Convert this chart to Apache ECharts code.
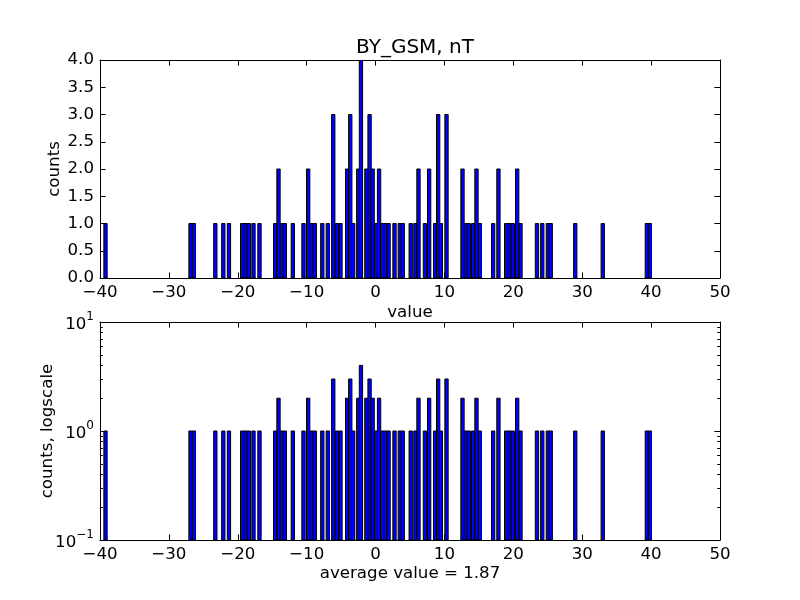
<!DOCTYPE html>
<html>
<head>
<meta charset="utf-8">
<script src="https://cdn.jsdelivr.net/npm/echarts@6/dist/echarts.min.js"></script>
<style>
html, body { margin: 0; padding: 0; background: #fff; }
#chart { width: 800px; height: 600px; }
</style>
</head>
<body>
<div id="chart"></div>
<script>
// bin centres (nT) and counts
const binCenters = [-39.2, -26.86, -26.38, -23.26, -22.1, -21.28, -19.36, -18.88, -18.4, -17.72,
  -16.85, -14.57, -14.09, -13.62, -13.17, -12.01, -10.46, -9.78, -9.3, -8.82,
  -7.73, -6.93, -6.14, -5.61, -5.09, -4.12, -3.67, -3.25, -2.51, -2.12,
  -1.33, -0.87, -0.42, 0.05, 0.51, 0.96, 1.43, 1.89, 2.75, 3.52,
  3.95, 5.1, 5.78, 6.23, 7.17, 7.78, 8.66, 9.09, 9.48, 10.3,
  12.62, 13.08, 13.53, 14.17, 14.65, 15.13, 17.07, 17.84, 18.96, 19.44,
  19.92, 20.56, 21.04, 23.43, 24.2, 25.01, 25.43, 28.99, 32.98, 39.38,
  39.81]
const counts = [1, 1, 1, 1, 1, 1, 1, 1, 1, 1,
  1, 1, 2, 1, 1, 1, 1, 2, 1, 1,
  1, 1, 3, 1, 1, 2, 3, 1, 2, 4,
  2, 3, 2, 1, 2, 1, 1, 1, 1, 1,
  1, 1, 1, 2, 1, 2, 1, 3, 1, 3,
  2, 1, 1, 1, 2, 1, 1, 2, 1, 1,
  1, 2, 1, 1, 1, 1, 1, 1, 1, 1,
  1]
const binWidth = 0.48
const logMajor = [0.1, 1, 10]
const logMinor = [0.2, 0.3, 0.4, 0.5, 0.6, 0.7, 0.8, 0.9, 2, 3, 4, 5, 6, 7, 8, 9]

const font = 'DejaVu Sans'
const fs = 16.67
const minus = v => (v < 0 ? '\u2212' + Math.abs(v) : '' + v)

function renderBar(params, api) {
	const x = api.value(0)
	const top = api.coord([x - binWidth / 2, api.value(1)])
	const bottom = api.coord([x + binWidth / 2, api.value(2)])
	return {
		type: 'rect',
		shape: { x: top[0], y: top[1], width: bottom[0] - top[0], height: bottom[1] - top[1] },
		style: { fill: '#0000ff', stroke: '#000', lineWidth: 1 }
	}
}

const line = { show: true, onZero: false, lineStyle: { color: '#000', width: 1 } }
const noLine = { show: false, onZero: false }
const nameStyle = { color: '#000', fontFamily: font, fontSize: fs }
const xBase = (grid, pos, labels, name, gap) => ({
	type: 'value', gridIndex: grid, position: pos, min: -40, max: 50, interval: 10,
	axisLine: line, splitLine: { show: false },
	axisTick: { show: true, inside: true, length: 5.6, lineStyle: { color: '#000' } },
	axisLabel: { show: labels, formatter: minus, color: '#000', fontFamily: font, fontSize: fs, margin: 6 },
	name: name, nameLocation: 'middle', nameGap: gap, nameMoveOverlap: false,
	nameTextStyle: nameStyle
})

const supLabel = v => {
	const e = Math.round(Math.log10(v))
	return '{b|10}{s|' + minus(e) + '}'
}

const chart = echarts.init(document.getElementById('chart'))
chart.setOption({
	animation: false,
	title: {
		text: 'BY_GSM, nT', left: 410, top: 33, textAlign: 'center',
		textStyle: { fontFamily: font, fontSize: 20, fontWeight: 'normal', color: '#000' }
	},
	grid: [
		{ left: 100, top: 60, width: 620, height: 218 },
		{ left: 100, top: 322, width: 620, height: 218 }
	],
	xAxis: [
		xBase(0, 'bottom', true, 'value', 26),
		xBase(0, 'top', false, '', 0),
		xBase(1, 'bottom', true, 'average value = 1.87', 25),
		xBase(1, 'top', false, '', 0)
	],
	yAxis: [
		{
			type: 'value', gridIndex: 0, position: 'left', min: 0, max: 4, interval: 0.5,
			axisLine: line, splitLine: { show: false },
			axisTick: { show: true, inside: true, length: 5.6, lineStyle: { color: '#000' } },
			axisLabel: { formatter: v => v.toFixed(1), color: '#000', fontFamily: font, fontSize: fs, margin: 6 },
			name: 'counts', nameLocation: 'middle', nameGap: 37, nameMoveOverlap: false,
			nameTextStyle: nameStyle
		},
		{
			type: 'value', gridIndex: 0, position: 'right', min: 0, max: 4, interval: 0.5,
			axisLine: line, splitLine: { show: false }, axisLabel: { show: false },
			axisTick: { show: true, inside: true, length: 5.6, lineStyle: { color: '#000' } }
		},
		{
			type: 'log', logBase: 10, gridIndex: 1, position: 'left', min: 0.1, max: 10,
			axisLine: line, splitLine: { show: false },
			axisTick: { show: true, inside: true, length: 5.6, customValues: logMajor, lineStyle: { color: '#000' } },
			axisLabel: {
				customValues: logMajor, formatter: supLabel, margin: 6,
				rich: {
					b: { color: '#000', fontFamily: font, fontSize: fs, verticalAlign: 'bottom', padding: [6, 0, 0, 0] },
					s: { color: '#000', fontFamily: font, fontSize: 12, verticalAlign: 'top', lineHeight: 12 }
				}
			},
			name: 'counts, logscale', nameLocation: 'middle', nameGap: 44, nameMoveOverlap: false,
			nameTextStyle: nameStyle
		},
		{
			type: 'log', logBase: 10, gridIndex: 1, position: 'left', min: 0.1, max: 10,
			axisLine: noLine, splitLine: { show: false }, axisLabel: { show: false },
			axisTick: { show: true, inside: true, length: 2.8, customValues: logMinor, lineStyle: { color: '#000' } }
		},
		{
			type: 'log', logBase: 10, gridIndex: 1, position: 'right', min: 0.1, max: 10,
			axisLine: line, splitLine: { show: false }, axisLabel: { show: false },
			axisTick: { show: true, inside: true, length: 5.6, customValues: logMajor, lineStyle: { color: '#000' } }
		},
		{
			type: 'log', logBase: 10, gridIndex: 1, position: 'right', min: 0.1, max: 10,
			axisLine: noLine, splitLine: { show: false }, axisLabel: { show: false },
			axisTick: { show: true, inside: true, length: 2.8, customValues: logMinor, lineStyle: { color: '#000' } }
		}
	],
	series: [
		{
			type: 'custom', xAxisIndex: 0, yAxisIndex: 0, clip: true, renderItem: renderBar,
			encode: { x: 0, y: 1 },
			data: binCenters.map((x, i) => [x, counts[i], 0])
		},
		{
			type: 'custom', xAxisIndex: 2, yAxisIndex: 2, clip: true, renderItem: renderBar,
			encode: { x: 0, y: 1 },
			data: binCenters.map((x, i) => [x, counts[i], logMajor[0]])
		}
	]
})
</script>
</body>
</html>
